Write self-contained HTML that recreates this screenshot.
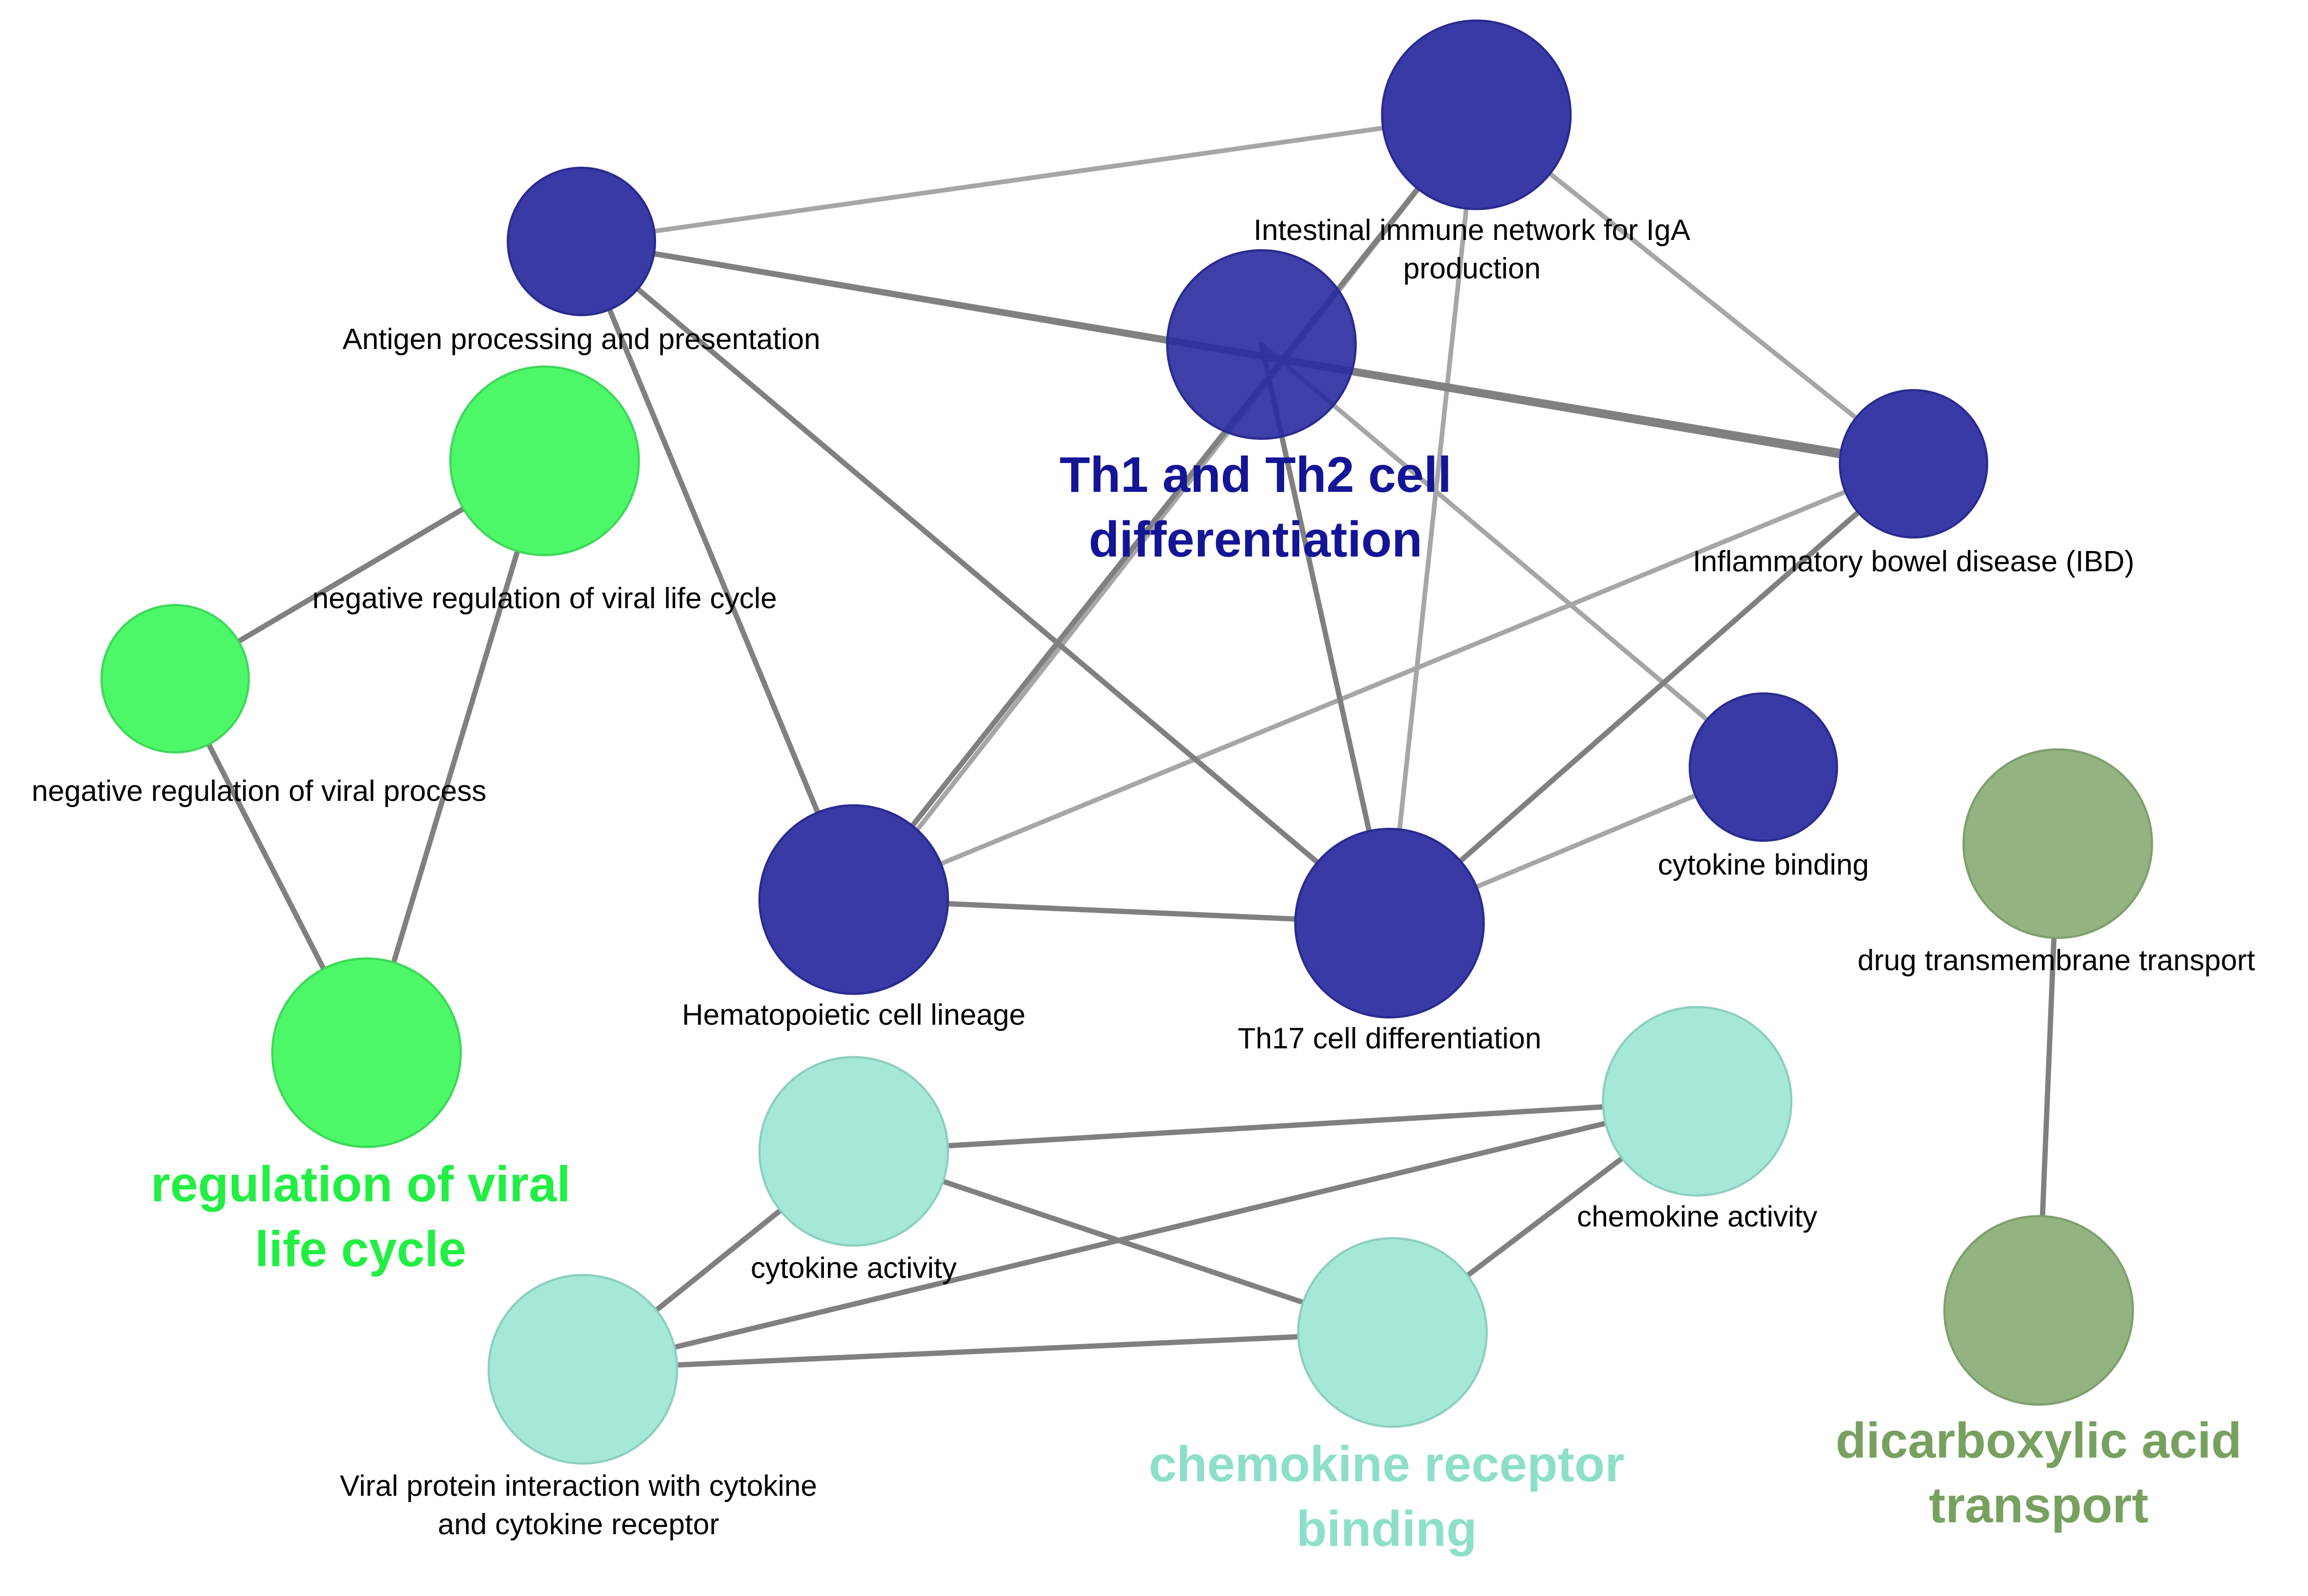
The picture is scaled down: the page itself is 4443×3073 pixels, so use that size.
<!DOCTYPE html>
<html><head><meta charset="utf-8"><style>
html,body{margin:0;padding:0;background:#fff;}
svg{display:block;}
text{font-family:"Liberation Sans",sans-serif;}
.s{font-size:20px;fill:#000;text-anchor:middle;}
.b{font-size:34px;font-weight:bold;text-anchor:middle;}
</style></head><body>
<svg width="4443" height="3073" viewBox="0 0 1568 1084" preserveAspectRatio="none" xmlns="http://www.w3.org/2000/svg">
<g stroke-linecap="round" fill="none">
<g stroke="#a6a6a6" stroke-width="3.2">
<line x1="395" y1="164" x2="1003" y2="78"/>
<line x1="1003" y1="78" x2="1300" y2="315"/>
<line x1="1003" y1="78" x2="944" y2="627"/>
<line x1="857" y1="234" x2="1198" y2="521"/>
<line x1="1300" y1="315" x2="580" y2="611"/>
<line x1="944" y1="627" x2="1198" y2="521"/>
<line x1="1003" y1="78" x2="590" y2="606"/>
</g>
<g stroke="#808080" stroke-width="3.6">
<line x1="395" y1="164" x2="1300" y2="315"/>
<line x1="395" y1="164" x2="1300" y2="318"/>
<line x1="395" y1="164" x2="580" y2="611"/>
<line x1="395" y1="164" x2="944" y2="627"/>
<line x1="1003" y1="78" x2="580" y2="611"/>
<line x1="857" y1="234" x2="944" y2="627"/>
<line x1="1300" y1="315" x2="944" y2="627"/>
<line x1="580" y1="611" x2="944" y2="627"/>
<line x1="370" y1="313" x2="119" y2="461"/>
<line x1="370" y1="313" x2="249" y2="715"/>
<line x1="119" y1="461" x2="249" y2="715"/>
<line x1="580" y1="782" x2="1153" y2="748"/>
<line x1="580" y1="782" x2="946" y2="905"/>
<line x1="580" y1="782" x2="396" y2="930"/>
<line x1="396" y1="930" x2="1153" y2="748"/>
<line x1="396" y1="930" x2="946" y2="905"/>
<line x1="946" y1="905" x2="1153" y2="748"/>
<line x1="1398" y1="573" x2="1385" y2="890"/>
</g>
</g>
<g stroke-width="1.5">
<g fill="#3a3aa6" stroke="#2a2a90">
<circle cx="1003" cy="78" r="64"/>
<circle cx="395" cy="164" r="50"/>
<circle cx="1300" cy="315" r="50"/>
<circle cx="1198" cy="521" r="50"/>
<circle cx="580" cy="611" r="64"/>
<circle cx="944" cy="627" r="64"/>
<circle cx="857" cy="234" r="64" fill="#2a2aa0" fill-opacity="0.9"/>
</g>
<g fill="#4cf868" stroke="#3ed85a">
<circle cx="370" cy="313" r="64"/>
<circle cx="119" cy="461" r="50"/>
<circle cx="249" cy="715" r="64"/>
</g>
<g fill="#a6e8d8" stroke="#8ccfbf">
<circle cx="580" cy="782" r="64"/>
<circle cx="1153" cy="748" r="64"/>
<circle cx="946" cy="905" r="64"/>
<circle cx="396" cy="930" r="64"/>
</g>
<g fill="#93b380" stroke="#7f9f6c">
<circle cx="1398" cy="573" r="64"/>
<circle cx="1385" cy="890" r="64"/>
</g>
</g>
<text class="s" x="1000" y="163">Intestinal immune network for IgA</text>
<text class="s" x="1000" y="189">production</text>
<text class="s" x="395" y="237">Antigen processing and presentation</text>
<text class="s" x="1300" y="388">Inflammatory bowel disease (IBD)</text>
<text class="s" x="370" y="413">negative regulation of viral life cycle</text>
<text class="s" x="176" y="544">negative regulation of viral process</text>
<text class="s" x="1198" y="594">cytokine binding</text>
<text class="s" x="1397" y="659">drug transmembrane transport</text>
<text class="s" x="580" y="696">Hematopoietic cell lineage</text>
<text class="s" x="944" y="712">Th17 cell differentiation</text>
<text class="s" x="1153" y="833">chemokine activity</text>
<text class="s" x="580" y="868">cytokine activity</text>
<text class="s" x="393" y="1016">Viral protein interaction with cytokine</text>
<text class="s" x="393" y="1042">and cytokine receptor</text>
<text class="b" x="853" y="334" fill="#141496">Th1 and Th2 cell</text>
<text class="b" x="853" y="378" fill="#141496">differentiation</text>
<text class="b" x="245" y="816" fill="#22ee44">regulation of viral</text>
<text class="b" x="245" y="860" fill="#22ee44">life cycle</text>
<text class="b" x="942" y="1006" fill="#8ddfc9">chemokine receptor</text>
<text class="b" x="942" y="1050" fill="#8ddfc9">binding</text>
<text class="b" x="1385" y="990" fill="#78a060">dicarboxylic acid</text>
<text class="b" x="1385" y="1034" fill="#78a060">transport</text>
</svg>
</body></html>
